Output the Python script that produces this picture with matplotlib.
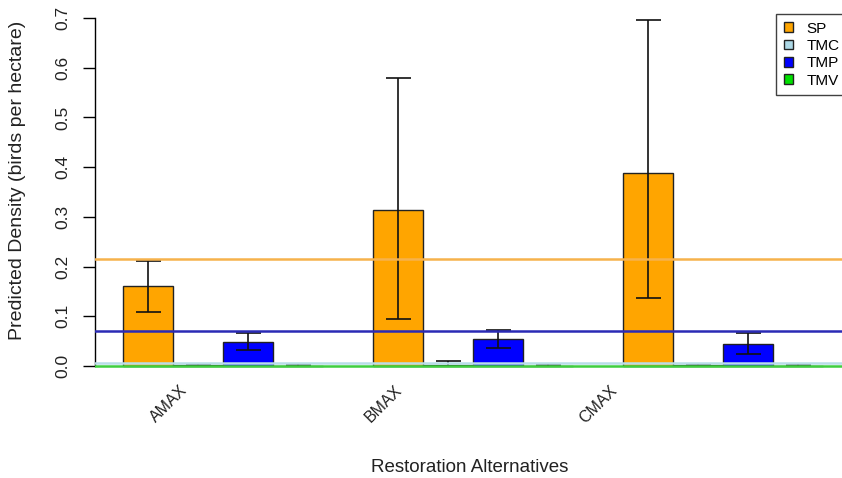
import numpy as np
import matplotlib.pyplot as plt
from matplotlib.patches import Patch

plt.rcParams['font.family'] = ['Liberation Sans', 'DejaVu Sans']

# predicted densities per restoration alternative
alternatives = ['AMAX', 'BMAX', 'CMAX']
species = ['SP', 'TMC', 'TMP', 'TMV']
density = {
    'SP':  [0.160, 0.314, 0.388],
    'TMC': [0.002, 0.003, 0.002],
    'TMP': [0.049, 0.054, 0.044],
    'TMV': [0.001, 0.001, 0.001],
}
lower = {
    'SP':  [0.108, 0.094, 0.136],
    'TMC': [0.001, 0.001, 0.001],
    'TMP': [0.032, 0.037, 0.024],
    'TMV': [0.000, 0.000, 0.000],
}
upper = {
    'SP':  [0.212, 0.580, 0.696],
    'TMC': [0.004, 0.011, 0.004],
    'TMP': [0.067, 0.072, 0.066],
    'TMV': [0.004, 0.004, 0.004],
}
# current (baseline) density for each species
baseline = {'SP': 0.215, 'TMC': 0.006, 'TMP': 0.070, 'TMV': 0.000}

bar_colors = {'SP': '#FFA500', 'TMC': '#ADD8E6', 'TMP': '#0000FF', 'TMV': '#00E000'}
line_colors = {'SP': '#F6B24C', 'TMC': '#B8DDE8', 'TMP': '#2A2AB5', 'TMV': '#3FCF3F'}

fig = plt.figure(figsize=(8.42, 4.78), dpi=100)
ax = fig.add_axes([95 / 842, 98 / 478, 756 / 842, 376 / 478])

for i, sp in enumerate(species):
    x = 1.5 + i + 5 * np.arange(len(alternatives))
    vals = np.array(density[sp])
    ax.bar(x, vals, width=1.0, color=bar_colors[sp], edgecolor='#222222',
           linewidth=1.0, zorder=2)
    yerr = [vals - np.array(lower[sp]), np.array(upper[sp]) - vals]
    ax.errorbar(x, vals, yerr=yerr, fmt='none', ecolor='#111111',
                elinewidth=1.2, capsize=9, capthick=1.2, zorder=3)

for sp in species:
    ax.axhline(baseline[sp], color=line_colors[sp], lw=1.8, zorder=4)

ax.set_xlim(0.44, 15.56)
ax.set_ylim(-0.028, 0.728)
for s in ['top', 'right', 'bottom']:
    ax.spines[s].set_visible(False)
ax.spines['left'].set_bounds(0, 0.7)
ax.spines['left'].set_linewidth(1.0)
ax.set_xticks([])
yt = np.arange(0, 0.71, 0.1)
ax.set_yticks(yt)
ax.set_yticklabels([f'{v:.1f}' for v in yt], rotation=90, va='center')
ax.tick_params(axis='y', length=9, width=1.0, pad=9, labelsize=12.5,
               labelcolor='#222222')

# rotated group labels
label_pos = [2.34, 6.64, 10.94]
for xp, name in zip(label_pos, alternatives):
    ax.text(xp, -0.008, name, transform=ax.get_xaxis_transform(),
            rotation=45, ha='right', va='top', fontsize=11.5, color='#222222')

fig.text(470 / 842, 1 - 467 / 478, 'Restoration Alternatives',
         ha='center', va='center', fontsize=13.5, color='#222222')
fig.text(18 / 842, 1 - 180 / 478, 'Predicted Density (birds per hectare)',
         ha='center', va='center', rotation=90, fontsize=14, color='#222222')

handles = [Patch(facecolor=bar_colors[sp], edgecolor='#222222', lw=1.0)
           for sp in species]
leg = fig.legend(handles, species, loc='upper left',
                 bbox_to_anchor=(776 / 842, 1 - 14 / 478),
                 frameon=True, fancybox=False, fontsize=11,
                 handlelength=0.6, handleheight=0.6, handletextpad=0.9,
                 labelspacing=0.22, borderpad=0.5, borderaxespad=0)
leg.get_frame().set_edgecolor('#111111')
leg.get_frame().set_linewidth(1.0)

fig.savefig('out.png', dpi=100, facecolor='white')
